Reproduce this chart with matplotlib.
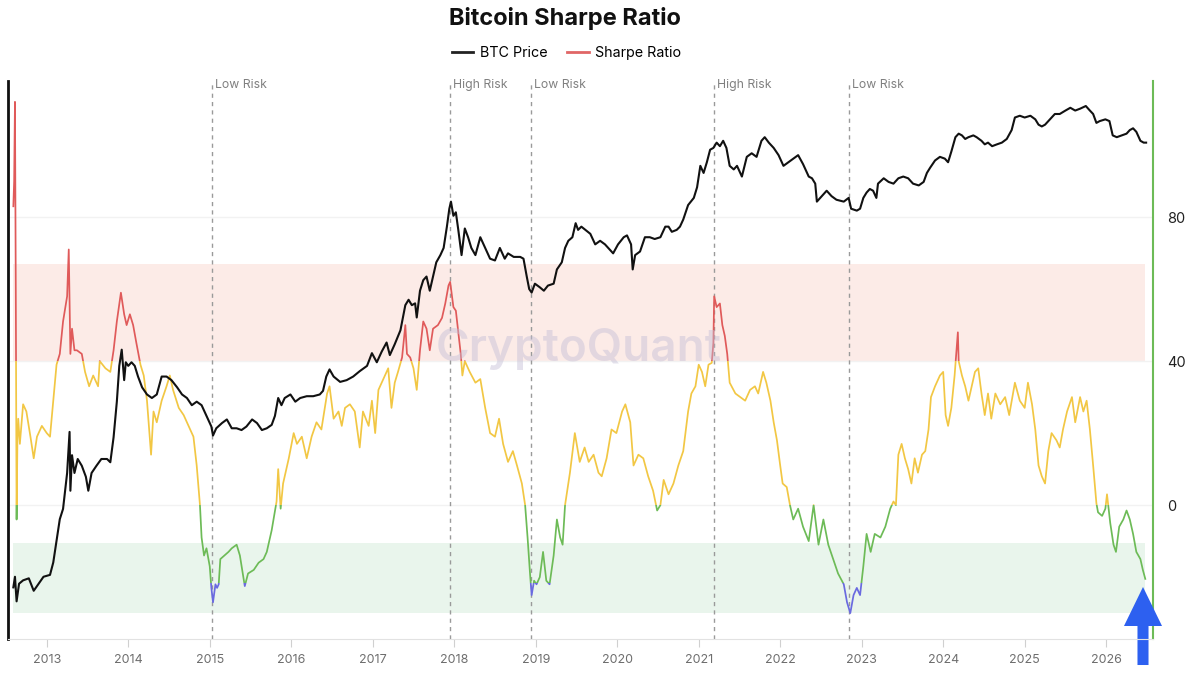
import matplotlib.pyplot as plt
from matplotlib.patches import Rectangle, FancyArrow
from matplotlib.lines import Line2D

plt.rcParams['font.family'] = ['Inter', 'DejaVu Sans']

# Sharpe ratio (right axis), dates as decimal years
sharpe_dates = [
    2012.59, 2012.60, 2012.61, 2012.62, 2012.63, 2012.64, 2012.65, 2012.67, 2012.71, 2012.75,
    2012.80, 2012.84, 2012.88, 2012.94, 2013.00, 2013.04, 2013.08, 2013.12, 2013.16, 2013.20,
    2013.25, 2013.27, 2013.29, 2013.31, 2013.34, 2013.37, 2013.43, 2013.47, 2013.52, 2013.57,
    2013.63, 2013.65, 2013.72, 2013.78, 2013.82, 2013.86, 2013.91, 2013.95, 2013.98, 2014.02,
    2014.06, 2014.10, 2014.15, 2014.19, 2014.23, 2014.28, 2014.31, 2014.35, 2014.41, 2014.47,
    2014.51, 2014.55, 2014.62, 2014.68, 2014.74, 2014.80, 2014.84, 2014.88, 2014.90, 2014.93,
    2014.96, 2015.00, 2015.02, 2015.04, 2015.07, 2015.09, 2015.11, 2015.13, 2015.18, 2015.23,
    2015.27, 2015.33, 2015.37, 2015.43, 2015.47, 2015.54, 2015.60, 2015.66, 2015.70, 2015.76,
    2015.82, 2015.84, 2015.87, 2015.90, 2015.97, 2016.03, 2016.07, 2016.13, 2016.19, 2016.25,
    2016.31, 2016.37, 2016.44, 2016.47, 2016.52, 2016.58, 2016.62, 2016.66, 2016.72, 2016.78,
    2016.84, 2016.88, 2016.95, 2016.99, 2017.03, 2017.07, 2017.13, 2017.19, 2017.23, 2017.27,
    2017.31, 2017.36, 2017.40, 2017.42, 2017.46, 2017.50, 2017.54, 2017.58, 2017.62, 2017.66,
    2017.70, 2017.74, 2017.80, 2017.85, 2017.89, 2017.93, 2017.95, 2017.99, 2018.02, 2018.05,
    2018.08, 2018.10, 2018.13, 2018.19, 2018.26, 2018.32, 2018.38, 2018.44, 2018.50, 2018.55,
    2018.60, 2018.66, 2018.72, 2018.77, 2018.83, 2018.87, 2018.90, 2018.93, 2018.95, 2018.98,
    2019.01, 2019.05, 2019.09, 2019.13, 2019.17, 2019.22, 2019.26, 2019.30, 2019.33, 2019.36,
    2019.42, 2019.48, 2019.54, 2019.60, 2019.65, 2019.71, 2019.77, 2019.81, 2019.87, 2019.93,
    2019.99, 2020.06, 2020.10, 2020.16, 2020.20, 2020.26, 2020.32, 2020.38, 2020.44, 2020.49,
    2020.53, 2020.57, 2020.63, 2020.69, 2020.75, 2020.81, 2020.87, 2020.91, 2020.96, 2021.00,
    2021.04, 2021.08, 2021.12, 2021.16, 2021.18, 2021.19, 2021.22, 2021.26, 2021.29, 2021.32,
    2021.35, 2021.38, 2021.45, 2021.51, 2021.57, 2021.63, 2021.69, 2021.73, 2021.79, 2021.83,
    2021.88, 2021.92, 2021.96, 2022.00, 2022.03, 2022.08, 2022.12, 2022.16, 2022.22, 2022.28,
    2022.35, 2022.41, 2022.47, 2022.53, 2022.59, 2022.65, 2022.71, 2022.78, 2022.82, 2022.86,
    2022.90, 2022.94, 2022.98, 2023.02, 2023.06, 2023.11, 2023.16, 2023.23, 2023.29, 2023.35,
    2023.39, 2023.42, 2023.45, 2023.49, 2023.53, 2023.57, 2023.61, 2023.65, 2023.69, 2023.74,
    2023.78, 2023.82, 2023.85, 2023.90, 2023.96, 2024.00, 2024.03, 2024.06, 2024.10, 2024.14,
    2024.18, 2024.19, 2024.23, 2024.27, 2024.31, 2024.35, 2024.39, 2024.43, 2024.47, 2024.51,
    2024.55, 2024.59, 2024.64, 2024.70, 2024.76, 2024.81, 2024.88, 2024.94, 2025.00, 2025.04,
    2025.09, 2025.13, 2025.17, 2025.21, 2025.25, 2025.29, 2025.33, 2025.39, 2025.43, 2025.47,
    2025.52, 2025.58, 2025.62, 2025.68, 2025.72, 2025.76, 2025.80, 2025.84, 2025.88, 2025.90,
    2025.95, 2025.99, 2026.01, 2026.05, 2026.09, 2026.12, 2026.16, 2026.21, 2026.25, 2026.29,
    2026.33, 2026.37, 2026.42, 2026.45, 2026.48,
]
sharpe_vals = [
    83, 90, 112, 60, -4, 18, 24, 17, 28, 26,
    19, 13, 19, 22, 20, 19, 29, 39, 42, 51,
    58, 71, 42, 49, 43, 43, 42, 37, 33, 36,
    33, 40, 38, 37, 43, 51, 59, 53, 50, 53,
    50, 45, 39, 36, 29, 14, 26, 23, 29, 33,
    36, 32, 27, 25, 22, 19, 11, 0, -9, -14,
    -12, -17, -23, -27, -22, -23, -22, -15, -14, -13,
    -12, -11, -14, -22.5, -19, -18, -16, -15, -13, -7,
    1, 10, -1, 6, 13, 20, 17, 19, 13, 19,
    23, 21, 31, 33, 24, 26, 22, 27, 28, 26,
    16, 26, 22, 29, 20, 32, 35, 38, 27, 34,
    37, 41, 50, 42, 41, 38, 32, 43, 51, 49,
    43, 49, 50, 52, 56, 61, 62, 55, 54, 48,
    42, 36, 40, 37, 34, 35, 27, 20, 19, 24,
    17, 12, 15, 11, 6, 0, -9, -19, -25, -21,
    -22, -20, -13, -21, -22, -14, -4, -9, -11, 0,
    9, 20, 12, 16, 12, 14, 9, 8, 13, 21,
    20, 26, 28, 23, 11, 14, 13, 8, 4, -1.5,
    0, 7, 3, 6, 11, 15, 26, 31, 33, 39,
    37, 33, 39, 39.5, 45, 58, 55, 56, 50, 47,
    42, 34, 31, 30, 29, 32, 33, 31, 37, 34,
    29, 23, 18, 11, 6, 5, 0, -4, -1, -6,
    -10, 0, -11, -4, -11, -15, -19, -22, -27, -30,
    -25, -23, -25, -17, -8, -13, -8, -9, -6, -1,
    1, 0, 14, 17, 13, 10, 6, 13, 9, 14,
    15, 21, 30, 33, 36, 37, 25, 22, 27, 36,
    48, 40, 36, 33, 29, 33, 37, 38, 31, 25,
    31, 24, 31, 28, 30, 25, 34, 29, 27, 34,
    28, 21, 11, 8, 6, 15, 20, 18, 16, 21,
    26, 30, 23, 30, 26, 29, 21, 11, 0.5, -2,
    -3, -1, 3, -5, -11, -13, -6, -4, -1.5, -4,
    -8, -13, -15, -18, -20.5,
]

# BTC price in USD (left log axis)
price_dates = [
    2012.59, 2012.61, 2012.63, 2012.66, 2012.71, 2012.78, 2012.84, 2012.90, 2012.96, 2013.04,
    2013.08, 2013.12, 2013.16, 2013.20, 2013.25, 2013.28, 2013.29, 2013.31, 2013.34, 2013.38,
    2013.43, 2013.48, 2013.51, 2013.55, 2013.61, 2013.67, 2013.74, 2013.78, 2013.82, 2013.86,
    2013.89, 2013.92, 2013.95, 2013.97, 2014.00, 2014.04, 2014.08, 2014.12, 2014.17, 2014.23,
    2014.29, 2014.35, 2014.41, 2014.47, 2014.53, 2014.60, 2014.66, 2014.72, 2014.78, 2014.84,
    2014.90, 2014.96, 2015.02, 2015.04, 2015.08, 2015.15, 2015.21, 2015.27, 2015.33, 2015.39,
    2015.45, 2015.52, 2015.58, 2015.64, 2015.70, 2015.76, 2015.80, 2015.84, 2015.88, 2015.92,
    2015.99, 2016.05, 2016.11, 2016.19, 2016.27, 2016.35, 2016.39, 2016.43, 2016.47, 2016.52,
    2016.60, 2016.68, 2016.76, 2016.84, 2016.93, 2016.99, 2017.05, 2017.11, 2017.17, 2017.21,
    2017.27, 2017.34, 2017.40, 2017.44, 2017.48, 2017.52, 2017.54, 2017.58, 2017.62, 2017.66,
    2017.70, 2017.74, 2017.78, 2017.83, 2017.87, 2017.91, 2017.94, 2017.96, 2017.99, 2018.02,
    2018.05, 2018.09, 2018.13, 2018.17, 2018.21, 2018.26, 2018.32, 2018.38, 2018.44, 2018.50,
    2018.56, 2018.62, 2018.66, 2018.73, 2018.81, 2018.85, 2018.89, 2018.92, 2018.95, 2018.99,
    2019.05, 2019.10, 2019.15, 2019.22, 2019.26, 2019.32, 2019.36, 2019.40, 2019.45, 2019.49,
    2019.52, 2019.56, 2019.61, 2019.67, 2019.73, 2019.79, 2019.85, 2019.91, 2019.95, 2020.01,
    2020.08, 2020.12, 2020.17, 2020.19, 2020.22, 2020.28, 2020.34, 2020.40, 2020.46, 2020.53,
    2020.59, 2020.63, 2020.67, 2020.73, 2020.77, 2020.81, 2020.87, 2020.94, 2020.98, 2021.02,
    2021.06, 2021.10, 2021.14, 2021.18, 2021.22, 2021.26, 2021.30, 2021.34, 2021.38, 2021.43,
    2021.47, 2021.53, 2021.59, 2021.65, 2021.71, 2021.77, 2021.81, 2021.86, 2021.92, 2021.98,
    2022.04, 2022.10, 2022.16, 2022.22, 2022.28, 2022.35, 2022.39, 2022.43, 2022.45, 2022.51,
    2022.57, 2022.63, 2022.69, 2022.78, 2022.84, 2022.87, 2022.94, 2022.98, 2023.02, 2023.06,
    2023.10, 2023.14, 2023.18, 2023.20, 2023.27, 2023.33, 2023.39, 2023.45, 2023.51, 2023.57,
    2023.63, 2023.70, 2023.76, 2023.80, 2023.84, 2023.90, 2023.96, 2024.02, 2024.06, 2024.10,
    2024.15, 2024.19, 2024.23, 2024.27, 2024.31, 2024.37, 2024.41, 2024.47, 2024.51, 2024.55,
    2024.60, 2024.66, 2024.72, 2024.78, 2024.84, 2024.88, 2024.94, 2025.00, 2025.07, 2025.13,
    2025.17, 2025.21, 2025.25, 2025.31, 2025.37, 2025.43, 2025.50, 2025.56, 2025.62, 2025.68,
    2025.75, 2025.80, 2025.84, 2025.88, 2025.92, 2025.99, 2026.04, 2026.08, 2026.13, 2026.19,
    2026.25, 2026.29, 2026.33, 2026.37, 2026.42, 2026.46, 2026.49,
]
price_vals = [
    11.0, 13.5, 8.4, 11.8, 12.6, 13.1, 10.3, 11.8, 13.5, 14.0,
    17.8, 27, 41, 50, 100, 221, 71, 141, 100, 131,
    115, 93, 71, 100, 115, 131, 131, 123, 199, 396,
    790, 1080, 600, 847, 790, 847, 790, 643, 522, 455,
    425, 455, 643, 643, 600, 522, 455, 425, 370, 396,
    370, 301, 245, 206, 237, 262, 281, 237, 237, 229,
    245, 281, 262, 229, 237, 253, 301, 425, 370, 425,
    455, 396, 425, 440, 440, 455, 488, 643, 738, 643,
    580, 600, 643, 713, 790, 1010, 847, 1040, 1240, 973,
    1200, 1570, 2550, 2830, 2550, 2640, 2010, 3370, 4130, 4430,
    3370, 4430, 5830, 6700, 7690, 11600, 16400, 18800, 14300, 15300,
    10900, 6700, 11200, 9460, 7690, 6700, 9460, 7690, 6250, 6040,
    7690, 6250, 6930, 6470, 6470, 6250, 4430, 3480, 3250, 3860,
    3600, 3370, 3720, 3860, 5080, 5830, 7690, 8830, 9460, 12400,
    10900, 11600, 10900, 10100, 8240, 8830, 8240, 7430, 6930, 8240,
    9460, 9800, 8240, 5080, 6700, 7180, 9460, 9460, 9140, 9460,
    11600, 11600, 10500, 10900, 11600, 13300, 17600, 20200, 24800, 37500,
    32700, 40200, 51200, 53000, 58700, 54800, 60800, 53000, 37500, 35000,
    37500, 30500, 44600, 47800, 44600, 60800, 65200, 58700, 53000, 46100,
    37500, 40200, 43100, 46100, 38800, 30500, 29500, 26600, 18800, 20900,
    23200, 20900, 19500, 18800, 20200, 16400, 15800, 16400, 20200, 22400,
    24000, 23200, 20200, 26600, 29500, 27500, 26600, 29500, 30500, 29500,
    26600, 25700, 27500, 32700, 36200, 41600, 44600, 43100, 40200, 49400,
    65200, 69800, 67500, 63000, 65200, 67500, 65200, 60800, 56800, 58700,
    54800, 56800, 58700, 63000, 74800, 95300, 98600, 95300, 98600, 92000,
    83000, 80200, 83000, 92000, 102000, 102000, 109000, 115000, 109000, 113000,
    119000, 109000, 102000, 85900, 88900, 92000, 88900, 67500, 65200, 67500,
    69800, 74800, 77400, 72300, 60800, 58700, 58700,
]

years = list(range(2013, 2027))
right_ticks = [0, 40, 80]
signal_dates = [2015.03, 2017.95, 2018.94, 2021.19, 2022.84]
signal_labels = ['Low Risk', 'High Risk', 'Low Risk', 'High Risk', 'Low Risk']

high_band = (40, 67)
low_band = (-30, -10.5)

# value ranges that decide the colour of the Sharpe line
zones = [
    (40, 200, '#e05a5a'),
    (0, 40, '#f2c744'),
    (-21.5, 0, '#6dbb57'),
    (-100, -21.5, '#6a6ae0'),
]

fig = plt.figure(figsize=(12, 6.75), dpi=100)
ax = fig.add_axes([0.0067, 0.0533, 0.9541, 0.8267])
ax2 = ax.twinx()
ax.set_zorder(ax2.get_zorder() + 1)
ax.patch.set_visible(False)

ax.set_xlim(2012.525, 2026.574)
ax.set_yscale('log')
ax.set_ylim(4.06, 192800)
ax2.set_ylim(-37.2, 117.8)

# background bands
x0, x1 = sharpe_dates[0], sharpe_dates[-1]
ax2.add_patch(Rectangle((x0, high_band[0]), x1 - x0, high_band[1] - high_band[0],
                        facecolor='#fcebe7', lw=0, zorder=0))
ax2.add_patch(Rectangle((x0, low_band[0]), x1 - x0, low_band[1] - low_band[0],
                        facecolor='#e9f5ec', lw=0, zorder=0))
ax2.set_yticks(right_ticks)
ax2.grid(axis='y', color='#f2f2f2', lw=1)
ax2.set_axisbelow(True)

for lo, hi, c in zones:
    line, = ax2.plot(sharpe_dates, sharpe_vals, color=c, lw=1.25, zorder=3)
    line.set_clip_path(Rectangle((2000, lo), 40, hi - lo, transform=ax2.transData))

ax.plot(price_dates, price_vals, color='#111111', lw=1.5, zorder=4)

for d, lab in zip(signal_dates, signal_labels):
    ax2.axvline(d, color='#9a9a9a', lw=1, ls=(0, (3, 3)), zorder=2)
    ax2.text(d + 0.04, 0.993, lab, transform=ax2.get_xaxis_transform(),
             ha='left', va='center', fontsize=8.8, color='#808080')

fig.text(0.482, 0.483, 'CryptoQuant', ha='center', va='center', fontsize=33,
         color='#c4bed6', alpha=0.45, fontweight='semibold')

# axes styling
for s in ['top', 'right']:
    ax.spines[s].set_visible(False)
for s in ['top', 'left', 'bottom']:
    ax2.spines[s].set_visible(False)
ax.spines['left'].set_color('#111111')
ax.spines['left'].set_linewidth(2)
ax.spines['bottom'].set_color('#e2e2e2')
ax2.spines['right'].set_color('#6dbb57')
ax2.spines['right'].set_linewidth(1.5)

ax.set_xticks(years)
ax.set_xticklabels([str(y) for y in years])
ax.tick_params(axis='x', colors='#d0d0d0', labelcolor='#6e6e6e', labelsize=9,
               length=6, width=0.8, pad=5)
ax.tick_params(axis='y', which='both', left=False, labelleft=False)
ax2.tick_params(axis='y', length=0, pad=10, labelsize=10.5, labelcolor='#222222')

fig.text(0.471, 0.972, 'Bitcoin Sharpe Ratio', ha='center', va='center',
         fontsize=17, fontweight='bold', color='#111111')

handles = [Line2D([], [], color='#222222', lw=2), Line2D([], [], color='#e06666', lw=2)]
fig.legend(handles, ['BTC Price', 'Sharpe Ratio'], loc='center', bbox_to_anchor=(0.472, 0.922),
           ncol=2, frameon=False, fontsize=10.3, handlelength=1.5, columnspacing=1.4,
           handletextpad=0.45)

fig.add_artist(FancyArrow(0.9525, 0.0148, 0, 0.1156, width=0.0092, head_width=0.0317,
                          head_length=0.0578, length_includes_head=True,
                          transform=fig.transFigure, color='#2d60f0', lw=0))

fig.savefig('out.png', dpi=100)
